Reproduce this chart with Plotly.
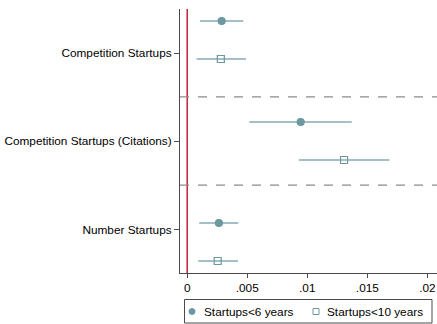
import plotly.graph_objects as go
import numpy as np

categories = ["Competition Startups", "Competition Startups (Citations)", "Number Startups"]
series_names = ["Startups<6 years", "Startups<10 years"]

# point estimates and confidence intervals
est_6 = [0.00287, 0.00945, 0.00264]
lo_6 = [0.00106, 0.00517, 0.00100]
hi_6 = [0.00467, 0.01370, 0.00425]

est_10 = [0.00280, 0.01306, 0.00254]
lo_10 = [0.00078, 0.00930, 0.00092]
hi_10 = [0.00490, 0.01683, 0.00423]

x_ticks = [0, 0.005, 0.01, 0.015, 0.02]
x_ticklabels = ["0", ".005", ".01", ".015", ".02"]

# layout geometry (row units)
grp = np.arange(len(categories), dtype=float)
y6 = grp
y10 = grp + 0.376
cat_tick = [0.317, 1.188, 2.069]
sep = [0.752, 1.624]

W, H = 437, 324
ML, MT = 180, 9
PW, PH = W - ML, H - MT
def px(x):  # pixel x -> paper
    return (x - ML) / PW
def py(y):  # pixel y -> paper
    return (H - y) / PH

line_col = "#86abb3"
mark_col = "#6b98a1"
axis_col = "#4a4a4a"
font = "Liberation Sans, Arial, sans-serif"
fs = 11.8
txt_col = "#000000"

fig = go.Figure()
symbols = ["circle", "square-open"]
for name, est, lo, hi, yy, sym in [
    (series_names[0], est_6, lo_6, hi_6, y6, symbols[0]),
    (series_names[1], est_10, lo_10, hi_10, y10, symbols[1]),
]:
    est = np.array(est); lo = np.array(lo); hi = np.array(hi)
    fig.add_trace(go.Scatter(
        x=est, y=yy, mode="markers", name=name, showlegend=False,
        marker=dict(symbol=sym, size=7, color=mark_col, line=dict(color=mark_col, width=1.2)),
        error_x=dict(type="data", symmetric=False, array=hi - est, arrayminus=est - lo,
                     color=line_col, thickness=1.5, width=0),
    ))

# manual legend (Stata-style box below the plot)
leg_x = [px(192), px(316)]
leg_tx = [px(202), px(325)]
leg_y = py(311.5)
r = 3
fig.add_shape(type="circle", xref="paper", yref="paper", xsizemode="pixel", ysizemode="pixel",
              xanchor=leg_x[0], yanchor=leg_y, x0=-r, x1=r, y0=-r, y1=r,
              fillcolor=mark_col, line=dict(color=mark_col, width=1))
fig.add_shape(type="rect", xref="paper", yref="paper", xsizemode="pixel", ysizemode="pixel",
              xanchor=leg_x[1], yanchor=leg_y, x0=-r, x1=r, y0=-r, y1=r,
              fillcolor="rgba(0,0,0,0)", line=dict(color=mark_col, width=1))
for i in range(2):
    fig.add_annotation(x=leg_tx[i], y=leg_y, xref="paper", yref="paper", text=series_names[i],
                       showarrow=False, xanchor="left", yanchor="middle",
                       font=dict(family=font, size=fs, color=txt_col))
fig.add_shape(type="rect", xref="paper", yref="paper", x0=px(184.5), x1=px(432), y0=py(323), y1=py(299.5),
              line=dict(color=axis_col, width=1))

fig.add_vline(x=0, line=dict(color="#c8203a", width=1.5))
for s in sep:
    fig.add_shape(type="line", xref="paper", x0=0, x1=1, y0=s, y1=s,
                  line=dict(color="#8c8c8c", width=1.3, dash="dash"))

fig.update_layout(
    width=W, height=H,
    margin=dict(l=ML, r=0, t=MT, b=0),
    paper_bgcolor="white", plot_bgcolor="white",
    font=dict(family=font, size=fs, color=txt_col),
    showlegend=False,
    xaxis=dict(range=[-0.0006, 0.0208], tickvals=x_ticks, ticktext=x_ticklabels,
               showgrid=False, zeroline=False, showline=True, linecolor=axis_col, linewidth=1,
               ticks="outside", ticklen=4, tickcolor=axis_col, anchor="y"),
    yaxis=dict(domain=[py(273), 1], range=[2.495, -0.119], tickvals=cat_tick, ticktext=categories,
               showgrid=False, zeroline=False, showline=True, linecolor=axis_col, linewidth=1,
               ticks="outside", ticklen=5, tickcolor=axis_col),
)
fig.write_html("out.html")
